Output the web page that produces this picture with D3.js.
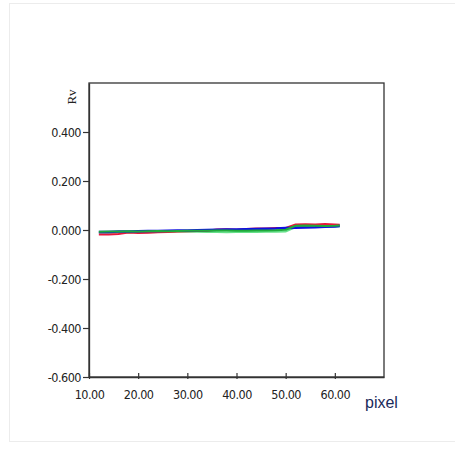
<!DOCTYPE html>
<html><head><meta charset="utf-8">
<script src="https://cdn.jsdelivr.net/npm/d3@7"></script>
<style>body{margin:0;background:#fff}svg{display:block}</style>
</head><body>
<script>
const xValues = [12,14,16,18,20,22,24,26,28,30,32,34,36,38,40,42,44,46,48,50,52,54,56,58,60,61];
const seriesNames = ["lightgreen","red","blue","green"];
const lightgreenValues = [-0.011,-0.011,-0.010,-0.010,-0.009,-0.009,-0.008,-0.008,-0.007,-0.007,-0.007,-0.008,-0.008,-0.009,-0.008,-0.008,-0.008,-0.007,-0.007,-0.006,0.012,0.013,0.013,0.014,0.014,0.015];
const redValues = [-0.018,-0.018,-0.016,-0.010,-0.012,-0.011,-0.009,-0.008,-0.006,-0.005,-0.004,-0.003,0.002,0.003,0.001,0.004,0.006,0.006,0.008,0.008,0.022,0.023,0.022,0.024,0.022,0.021];
const blueValues = [-0.008,-0.008,-0.006,-0.006,-0.005,-0.004,-0.004,-0.003,-0.002,-0.002,-0.001,0.000,0.001,0.002,0.002,0.003,0.004,0.005,0.006,0.008,0.009,0.010,0.011,0.013,0.014,0.016];
const greenValues = [-0.007,-0.006,-0.006,-0.005,-0.006,-0.005,-0.004,-0.005,-0.004,-0.003,-0.003,-0.003,-0.002,-0.002,-0.003,-0.003,-0.002,-0.002,-0.001,0.001,0.017,0.018,0.017,0.016,0.017,0.018];
const seriesColors = ["#66e08a","#e8163c","#1010e0","#1faa3a"];
const xTicks = [10,20,30,40,50,60];
const yTicks = [-0.6,-0.4,-0.2,0,0.2,0.4];
const xLabel = "pixel", yLabel = "Rv";

const W = 455, H = 455;
const svg = d3.select("body").append("svg").attr("width", W).attr("height", H);
svg.append("rect").attr("x",9.5).attr("y",3.5).attr("width",460).attr("height",438)
  .attr("fill","#fff").attr("stroke","#ececec");

const L = 89, R = 384, T = 83, B = 377;
const x = d3.scaleLinear().domain([10,70]).range([L,R]);
const y = d3.scaleLinear().domain([-0.6,0.6]).range([B,T]);

svg.append("rect").attr("x",L).attr("y",T).attr("width",R-L).attr("height",B-T)
  .attr("fill","none").attr("stroke","#333").attr("stroke-width",1.3);

const font = "DejaVu Sans Condensed, Liberation Sans, Arial, sans-serif";
const fmtY = d => d3.format(".3f")(d).replace("\u2212","-");
const yAxis = svg.append("g").attr("transform",`translate(${L},0)`)
  .call(d3.axisLeft(y).tickValues(yTicks).tickFormat(fmtY).tickSize(6).tickSizeOuter(0).tickPadding(2));
const xAxis = svg.append("g").attr("transform",`translate(0,${B})`)
  .call(d3.axisBottom(x).tickValues(xTicks).tickFormat(d3.format(".2f")).tickSize(3).tickSizeOuter(0).tickPadding(10));
xAxis.selectAll(".tick line").attr("y1",-4).attr("y2",2);
[yAxis,xAxis].forEach(g=>{
  g.select(".domain").attr("stroke","#333").attr("stroke-width",1.3);
  g.selectAll(".tick line").attr("stroke","#333").attr("stroke-width",1.2);
  g.selectAll("text").attr("font-family",font).attr("font-size",12.5).attr("fill","#222").attr("letter-spacing","-0.5");
});
yAxis.selectAll("text").attr("dy","0.35em");

const allSeries = [lightgreenValues, redValues, blueValues, greenValues];
const line = d3.line().x((d,i)=>x(xValues[i])).y(d=>y(d));
allSeries.forEach((vals,k)=>{
  svg.append("path").datum(vals).attr("d",line).attr("fill","none")
    .attr("stroke",seriesColors[k]).attr("stroke-width",k===2?2.6:2)
    .attr("class","series-"+seriesNames[k]);
});

svg.append("text").attr("transform","translate(76,97) rotate(-90)").attr("text-anchor","middle")
  .attr("font-family","Liberation Serif, Times New Roman, serif").attr("font-size",13).attr("fill","#222").text(yLabel);
svg.append("text").attr("x",365).attr("y",408).attr("font-family","Liberation Sans, Arial, sans-serif").attr("font-size",16)
  .attr("fill","#1a2a5a").text(xLabel);
</script>
</body></html>
